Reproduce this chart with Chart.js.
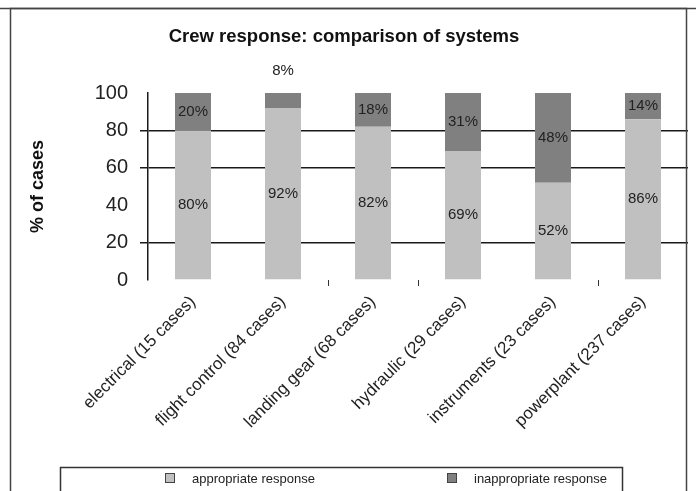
<!DOCTYPE html>
<html><head><meta charset="utf-8">
<script src="https://cdn.jsdelivr.net/npm/chart.js@4/dist/chart.umd.min.js"></script>
<style>html,body{margin:0;padding:0;background:#fff;}#wrap{width:696px;height:491px;position:relative;}</style>
</head><body><div id="wrap"><canvas id="c" width="696" height="491"></canvas></div>
<script>
const categories = ['electrical (15 cases)', 'flight control (84 cases)', 'landing gear (68 cases)', 'hydraulic (29 cases)', 'instruments (23 cases)', 'powerplant (237 cases)'];
const appropriate = [80, 92, 82, 69, 52, 86];
const inappropriate = [20, 8, 18, 31, 48, 14];
const yTicks = [0, 20, 40, 60, 80, 100];
const seriesNames = ['appropriate response', 'inappropriate response'];

const valueLabels = {
  id: 'valueLabels',
  afterDatasetsDraw(chart) {
    const ctx = chart.ctx;
    ctx.save();
    ctx.font = '15px Arial';
    ctx.fillStyle = '#222';
    ctx.textAlign = 'center';
    ctx.textBaseline = 'middle';
    chart.data.datasets.forEach((ds, di) => {
      const meta = chart.getDatasetMeta(di);
      meta.data.forEach((bar, i) => {
        const v = ds.data[i];
        const top = Math.min(bar.y, bar.base), bottom = Math.max(bar.y, bar.base);
        let y = (top + bottom) / 2;
        if (bottom - top < 20) y = top - 22;
        ctx.fillText(v + '%', bar.x, y);
      });
    });
    ctx.restore();
  }
};

const frameLegend = {
  id: 'frameLegend',
  afterDraw(chart) {
    const ctx = chart.ctx;
    ctx.save();
    ctx.strokeStyle = '#444';
    ctx.lineWidth = 1.5;
    ctx.beginPath();
    ctx.moveTo(0, 8.5); ctx.lineTo(696, 8.5);
    ctx.stroke();
    ctx.strokeRect(10.5, 8.5, 676, 520);
    ctx.strokeStyle = '#333';
    ctx.strokeRect(60.5, 467.5, 562, 50);
    const sq = [165, 447], tx = [192, 474];
    ctx.font = '13px Arial';
    ctx.textBaseline = 'middle';
    ctx.textAlign = 'left';
    chart.data.datasets.forEach((ds, i) => {
      ctx.fillStyle = ds.backgroundColor;
      ctx.fillRect(sq[i], 473, 10, 10);
      ctx.strokeStyle = '#444';
      ctx.lineWidth = 1;
      ctx.strokeRect(sq[i] + 0.5, 473.5, 9, 9);
      ctx.fillStyle = '#222';
      ctx.fillText(ds.label, tx[i], 479);
    });
    ctx.restore();
  }
};

new Chart(document.getElementById('c'), {
  type: 'bar',
  data: {
    labels: categories,
    datasets: [
      { label: seriesNames[0], data: appropriate, backgroundColor: '#c0c0c0', categoryPercentage: 1, barPercentage: 0.4 },
      { label: seriesNames[1], data: inappropriate, backgroundColor: '#808080', categoryPercentage: 1, barPercentage: 0.4 }
    ]
  },
  options: {
    responsive: false,
    animation: false,
    devicePixelRatio: 1,
    layout: { padding: { left: 0, right: 8, top: 0, bottom: 40 } },
    plugins: {
      legend: { display: false },
      tooltip: { enabled: false },
      title: {
        display: true,
        text: 'Crew response: comparison of systems',
        font: { family: 'Arial', size: 18.5, weight: 'bold' },
        color: '#111',
        padding: { top: 26, bottom: 44.8 }
      }
    },
    scales: {
      x: {
        stacked: true,
        offset: true,
        ticks: { minRotation: 45, maxRotation: 45, autoSkip: false, font: { family: 'Arial', size: 17 }, color: '#222', padding: 6 },
        grid: { offset: true, drawOnChartArea: false, tickLength: 6, lineWidth: 1,
          color: c => [2, 3, 5].includes(c.index) ? '#333' : 'rgba(0,0,0,0)' },
        border: { display: false },
        afterFit: s => { s.height = 171; }
      },
      y: {
        stacked: true,
        min: 0, max: 100,
        afterBuildTicks: s => { s.ticks = yTicks.map(v => ({ value: v })); },
        ticks: { font: { family: 'Arial', size: 20 }, color: '#222', padding: 12 },
        grid: { lineWidth: 1.5, tickLength: 8,
          color: c => (c.tick && [20, 60, 80].includes(c.tick.value)) ? '#1a1a1a' : 'rgba(0,0,0,0)' },
        border: { display: true, color: '#1a1a1a', width: 1.5 },
        title: { display: true, text: '% of cases', font: { family: 'Arial', size: 18, weight: 'bold' }, color: '#111', padding: { top: 27, bottom: 0 } },
        afterFit: s => { s.width = 148; }
      }
    }
  },
  plugins: [valueLabels, frameLegend]
});
</script></body></html>
